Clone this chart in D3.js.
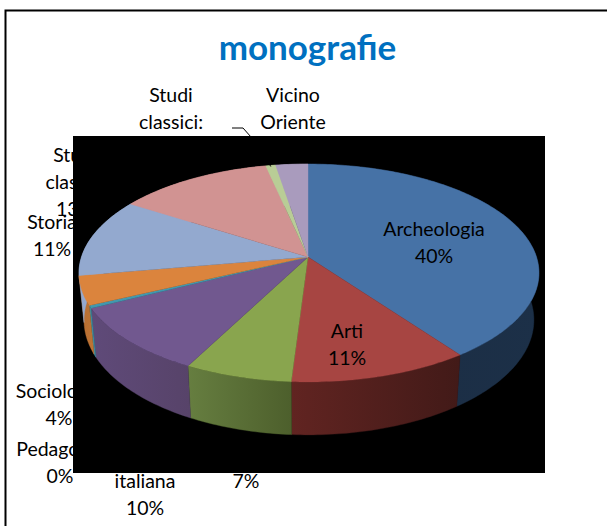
<!DOCTYPE html>
<html>
<head>
<meta charset="utf-8">
<style>html,body{margin:0;padding:0;background:#fff;overflow:hidden}svg{display:block}</style>
<script src="https://cdn.jsdelivr.net/npm/d3@7/dist/d3.min.js"></script>
</head>
<body>
<svg id="c" width="607" height="526"></svg>
<script>
// Data
const categories = ["Archeologia","Arti","(7%)","italiana","Pedagogia","Sociologia","Storia","Studi classici","Studi classici:","Vicino Oriente"];
const shares = [40, 11, 6.6, 10, 0.4, 4.3, 11.7, 12.6, 0.8, 2.6];
const title = "monografie";

// Styles
const topColors  = ["#4672A6","#A74542","#89A54E","#71588F","#4198AF","#DB843D","#93A9CF","#D19392","#B9CD96","#A99BBD"];
const wallLeft   = ["#1B2C42","#612421","#667E40","#5F4A79","#3B8A9F","#B56C31","#93A9CF","#D19392","#B9CD96","#A99BBD"];
const wallRight  = ["#1C3048","#421A18","#4D5F2C","#574369","#3B8A9F","#BE7434","#93A9CF","#D19392","#B9CD96","#A99BBD"];

// Geometry of the tilted disc
const cx = 308, cy = 257, Rx = 227.5, Ry = 106.6, k = -0.147;
const bottomDy = 46.2, bottomSy = 1.054, bottomSx = 0.978;

const svg = d3.select("#c");
const defs = svg.append("defs");

const rimTop = a => {
  const u = Math.sin(a), v = -Math.cos(a), w = 1 + k * v;
  return [cx + Rx * u / w + u * u, cy + Ry * v / w];
};
const rimBottom = a => {
  const [x, y] = rimTop(a);
  return [cx + (x - cx) * bottomSx, cy + bottomDy + (y - cy) * bottomSy];
};

const arcs = d3.pie().sort(null).value(d => d).startAngle(0).endAngle(2 * Math.PI)(shares);
const poly = d3.line().curve(d3.curveLinearClosed);
const samples = (a0, a1) => d3.range(0, 1.0001, 1 / Math.max(2, Math.ceil((a1 - a0) * 60))).map(t => a0 + (a1 - a0) * t);

// Frame: only the top and left edges show
svg.append("path").attr("d", "M5.5,526V10.5H607").attr("fill", "none").attr("stroke", "#000").attr("stroke-width", 2);

// Title
svg.append("text").text(title).attr("x", 307.5).attr("y", 60)
  .attr("text-anchor", "middle").attr("font-family", "Lato").attr("font-weight", 700)
  .attr("font-size", 35).attr("fill", "#0070C0");

// Labels that the black plot area overlaps
const labelLayout = [
  {lines:["Studi","classici:"], x:171, y:[102,129]},
  {lines:["Vicino","Oriente"], x:293, y:[102,129]},
  {lines:["Studi","classici","13%"], x:75, y:[162,189,216]},
  {lines:["Storia","11%"], x:52, y:[229,256]},
  {lines:["Sociologia","4%"], x:59, y:[398,425]},
  {lines:["Pedagogia","0%"], x:60, y:[456,483]},
  {lines:["italiana","10%"], x:145, y:[488,515]},
  {lines:["7%"], x:246, y:[488]}
];
const insideLabels = [
  {lines:["Archeologia","40%"], x:434, y:[236,263]},
  {lines:["Arti","11%"], x:347, y:[338,365]}
];
const drawLabels = list => list.forEach(l => l.lines.forEach((s, i) => {
  svg.append("text").text(s).attr("x", l.x).attr("y", l.y[i])
    .attr("text-anchor", "middle").attr("font-family", "Lato")
    .attr("font-size", 19.5).attr("fill", "#000");
}));
drawLabels(labelLayout);

// Leader line start
svg.append("path").attr("d", "M232,128H243L251,137").attr("fill", "none").attr("stroke", "#000").attr("stroke-width", 1);

// Black plot area
svg.append("rect").attr("x", 73).attr("y", 136).attr("width", 472).attr("height", 337).attr("fill", "#000");

// Side walls
arcs.forEach((d, i) => {
  const id = "w" + i;
  const pts0 = samples(d.startAngle, d.endAngle);
  const top = pts0.map(rimTop), bot = pts0.map(rimBottom);
  const xs = top.concat(bot).map(p => p[0]);
  const g = defs.append("linearGradient").attr("id", id).attr("gradientUnits", "userSpaceOnUse")
    .attr("x1", d3.min(xs)).attr("x2", d3.max(xs)).attr("y1", 0).attr("y2", 0);
  g.append("stop").attr("offset", 0).attr("stop-color", wallLeft[i]);
  g.append("stop").attr("offset", 1).attr("stop-color", wallRight[i]);
  svg.append("path").attr("d", poly(top.concat(bot.slice().reverse())))
    .attr("fill", `url(#${id})`).attr("stroke", wallRight[i]).attr("stroke-width", 0.4);
});

// Top faces
arcs.forEach((d, i) => {
  const pts = [[cx, cy]].concat(samples(d.startAngle, d.endAngle).map(rimTop));
  svg.append("path").attr("d", poly(pts)).attr("fill", topColors[i])
    .attr("stroke", topColors[i]).attr("stroke-width", 0.4);
});

// Leader nib on the small slice
const small = arcs[8];
const nib = rimTop((small.startAngle + small.endAngle) / 2);
svg.append("path").attr("d", d3.line()([[nib[0] - 3, nib[1] - 4], [nib[0], nib[1] + 1]]))
  .attr("fill", "none").attr("stroke", "#000").attr("stroke-width", 1);

drawLabels(insideLabels);
</script>
</body>
</html>
